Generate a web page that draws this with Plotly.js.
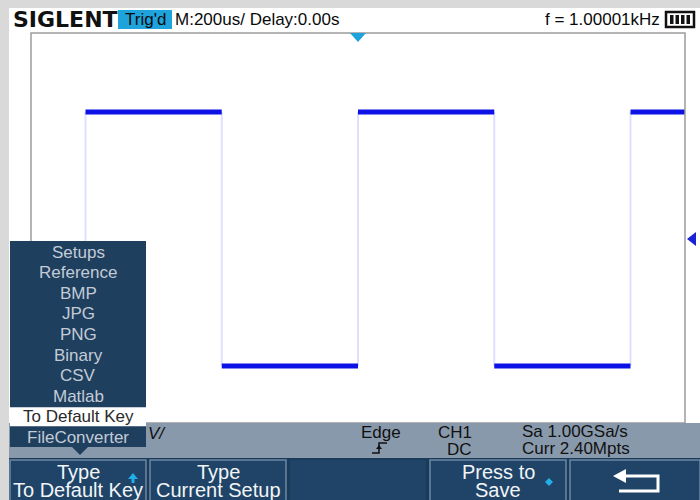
<!DOCTYPE html>
<html>
<head>
<meta charset="utf-8">
<script src="https://cdn.plot.ly/plotly-3.0.1.min.js"></script>
<style>
  html, body { margin: 0; padding: 0; background: #ffffff; }
  #chart { width: 700px; height: 500px; }
</style>
</head>
<body>
<div id="chart"></div>
<script>
// waveform (time in us, level in divisions)
const timeWindow = [-1200, 1200];
const segTimes = [-1200, -1000, -500, 0, 500, 1000, 1200];
const segLevels = [-2.83, 2.38, -2.83, 2.38, -2.83, 2.38];
const edgeTimes = [-1000, -500, 0, 500, 1000];
const levelRange = [-4, 4];

// screen texts
const menuItems = ['Setups', 'Reference', 'BMP', 'JPG', 'PNG', 'Binary', 'CSV', 'Matlab', 'To Default Key', 'FileConverter'];
const selectedItem = 'To Default Key';
const softKeys = [['Type', 'To Default Key'], ['Type', 'Current Setup'], ['', ''], ['Press to', 'Save'], ['', '']];

// plot area in pixels
const L = 31, R = 685, T = 33, B = 423;
const X = px => (px - L) / (R - L);
const Y = py => (B - py) / (B - T);

const FONT = 'Liberation Sans, Arial, sans-serif';
const shapes = [];
const annotations = [];

function rect(x0, y0, x1, y1, fill, line, lw) {
    shapes.push({
        type: 'rect', xref: 'paper', yref: 'paper', layer: 'above',
        x0: X(x0), x1: X(x1), y0: Y(y1), y1: Y(y0),
        fillcolor: fill || 'rgba(0,0,0,0)',
        line: { color: line || 'rgba(0,0,0,0)', width: lw || 0 }
    });
}

function poly(pts, fill, line, lw, closed) {
    let d = pts.map((p, i) => (i ? 'L' : 'M') + X(p[0]).toFixed(5) + ',' + Y(p[1]).toFixed(5)).join(' ');
    if (closed !== false) d += ' Z';
    shapes.push({
        type: 'path', xref: 'paper', yref: 'paper', layer: 'above', path: d,
        fillcolor: fill || 'rgba(0,0,0,0)',
        line: { color: line || 'rgba(0,0,0,0)', width: lw || 0 }
    });
}

function text(x, y, str, size, color, anchor, family) {
    annotations.push({
        xref: 'paper', yref: 'paper', x: X(x), y: Y(y), text: str,
        showarrow: false, xanchor: anchor || 'center', yanchor: 'middle',
        borderpad: 0,
        font: { family: family || FONT, size: size, color: color }
    });
}

// outer bezel
rect(0, 0, 9, 500, '#d9d9d9');
rect(0, 0, 700, 8, '#d9d9d9');

// graticule frame
rect(L, T, R, B, null, '#9c9c9c', 1.5);

// top header
text(12, 19.5, '<b>SIGLENT</b>', 22, '#111111', 'left', 'DejaVu Sans, sans-serif');
rect(118, 10, 172, 29, '#1ea3dd');
text(145, 19.5, "Trig'd", 17, '#0a0a0a');
text(174, 19.5, 'M:200us/ Delay:0.00s', 17, '#0a0a0a', 'left');
text(661, 19.5, 'f = 1.00001kHz', 17, '#0a0a0a', 'right');
rect(666, 12, 694, 27, '#ffffff', '#111111', 2.5);
[670, 675.5, 681, 686.5].forEach(bx => rect(bx, 15, bx + 3.5, 24, '#111111'));

// trigger markers
poly([[350, 33], [366, 33], [358, 42]], '#1ea3dd');
poly([[687, 239], [696, 232], [696, 246]], '#1a22d8');

// status bar
rect(9, 423, 700, 458, '#8999ac');
text(147, 434, '<i>V/</i>', 17, '#111111', 'left');
text(381, 433, 'Edge', 17, '#111111');
poly([[372, 453], [379, 453], [379, 443], [387, 443]], null, '#111111', 1.5, false);
poly([[376, 449], [382, 449], [379, 445]], '#111111');
text(437, 433, 'CH1', 17, '#111111', 'left');
text(446, 449, 'DC', 17, '#111111', 'left');
text(521, 432, 'Sa 1.00GSa/s', 17, '#111111', 'left');
text(521, 448, 'Curr 2.40Mpts', 17, '#111111', 'left');

// soft keys
rect(9, 458, 700, 500, '#1b3b5a');
softKeys.forEach((k, i) => {
    const x0 = 10 + i * 140, x1 = Math.min(x0 + 136, 700);
    const empty = !k[0] && i === 2;
    rect(x0, 460, x1, 502, '#1f4467', empty ? null : '#6d87a3', empty ? 0 : 1.5);
    if (k[0]) {
        text((x0 + x1) / 2, 472, k[0], 20, '#f2f4f7');
        text((x0 + x1) / 2, 489.5, k[1], 20, '#f2f4f7');
    }
});
poly([[128, 479], [138, 479], [133, 473]], '#22aee8');
rect(131.5, 478, 134.5, 483, '#22aee8');
poly([[545, 482], [549, 478], [553, 482], [549, 486]], '#22aee8');
// return arrow
poly([[624, 476], [658, 476], [658, 491], [619, 491]], null, '#ffffff', 3, false);
poly([[613, 476], [626, 469], [626, 483]], '#ffffff');

// save-type menu
rect(10, 241, 146, 447, '#1f3f5f');
poly([[72, 447], [88, 447], [80, 455]], '#1f3f5f');
menuItems.forEach((item, i) => {
    const y = 252 + i * 20.6;
    if (item === selectedItem) {
        rect(10, y - 9.5, 146, y + 9.5, '#ffffff');
        text(78, y, item, 17, '#2a2a2a');
    } else {
        text(78, y, item, 17, '#c3ccd6');
    }
});

// build waveform traces
const hx = [], hy = [];
segLevels.forEach((v, i) => {
    hx.push(segTimes[i], segTimes[i + 1], null);
    hy.push(v, v, null);
});
const lo = Math.min(...segLevels), hi = Math.max(...segLevels);
const ex = [], ey = [];
edgeTimes.forEach(t => {
    ex.push(t, t, null);
    ey.push(lo, hi, null);
});

const traces = [
    { x: ex, y: ey, type: 'scatter', mode: 'lines', line: { color: '#dfe0ff', width: 2 }, hoverinfo: 'skip' },
    { x: hx, y: hy, type: 'scatter', mode: 'lines', line: { color: '#0c12e6', width: 5 }, hoverinfo: 'skip' }
];

const layout = {
    width: 700,
    height: 500,
    margin: { l: L, r: 700 - R, t: T, b: 500 - B },
    paper_bgcolor: '#ffffff',
    plot_bgcolor: '#ffffff',
    showlegend: false,
    xaxis: { range: timeWindow, showgrid: false, zeroline: false, showticklabels: false, ticks: '', fixedrange: true },
    yaxis: { range: levelRange, showgrid: false, zeroline: false, showticklabels: false, ticks: '', fixedrange: true },
    shapes: shapes,
    annotations: annotations
};

Plotly.newPlot('chart', traces, layout, { displayModeBar: false, staticPlot: true });
</script>
</body>
</html>
